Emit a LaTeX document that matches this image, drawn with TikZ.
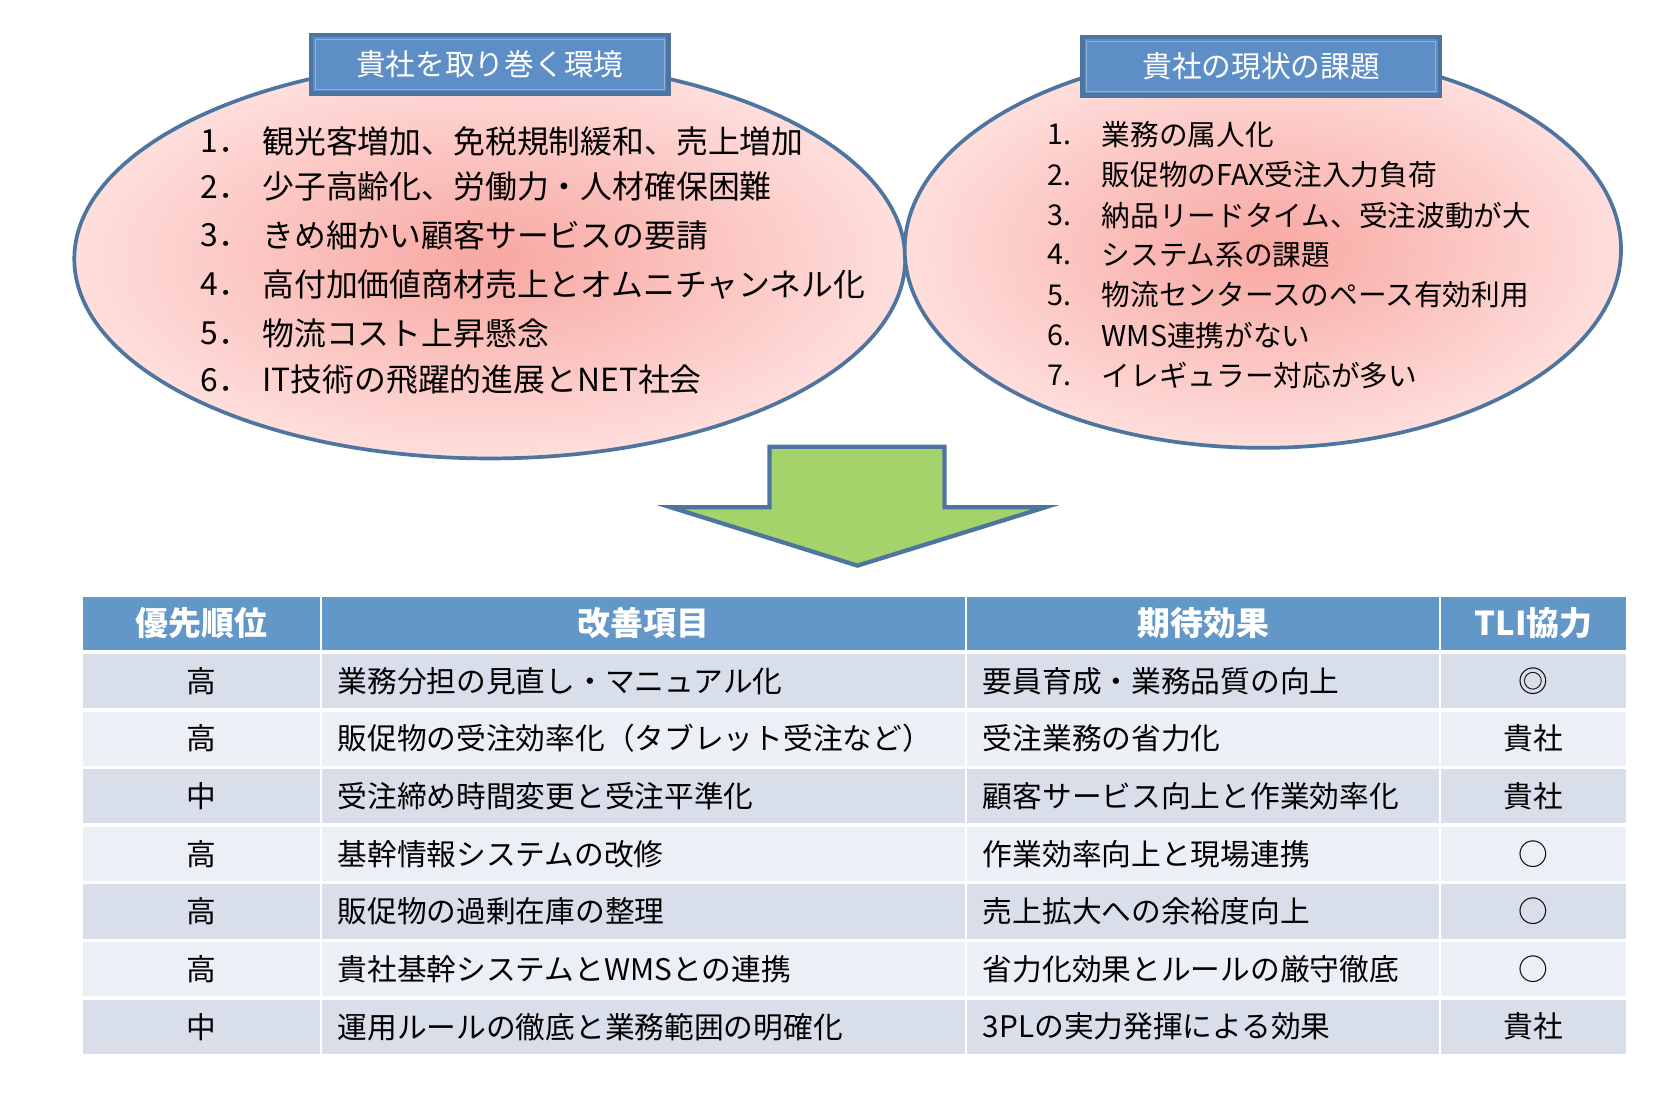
\documentclass[tikz,border=0pt]{standalone}
\usepackage{fontspec}
\newfontfamily\jp{Noto Sans CJK JP}
\usetikzlibrary{shapes.geometric}

\definecolor{frameblue}{HTML}{4E74A0}
\definecolor{titleblue}{HTML}{5D8FC6}
\definecolor{titleedge}{HTML}{8DB1DA}
\definecolor{pinkcore}{HTML}{F8A7A1}
\definecolor{pinkrim}{HTML}{FEDEDC}
\definecolor{arrowgreen}{HTML}{A3D36A}
\definecolor{headblue}{HTML}{6397C7}
\definecolor{rowdark}{HTML}{D8DFEA}
\definecolor{rowlight}{HTML}{ECEFF5}

\tikzset{
  bubble/.style={ellipse,draw=frameblue,line width=3.5pt,inner color=pinkcore,outer color=pinkrim},
  titlebox/.style={draw=frameblue,line width=4pt,fill=titleblue,text=white,inner sep=0pt,
    minimum width=337pt,minimum height=55pt,font=\jp\fontsize{28}{32}\selectfont},
  envtext/.style={anchor=west,inner sep=0pt,font=\jp\fontsize{30}{34}\selectfont},
  issuetext/.style={anchor=west,inner sep=0pt,font=\jp\fontsize{27}{31}\selectfont},
  headcell/.style={anchor=north west,fill=headblue,text=white,inner sep=0pt,minimum height=50pt,
    font=\jp\bfseries\fontsize{31}{35}\selectfont},
  bodycell/.style={anchor=north west,inner sep=0pt,minimum height=51pt,
    font=\jp\fontsize{28}{32}\selectfont},
}

\begin{document}
\begin{tikzpicture}[x=1pt,y=-1pt]
  \useasboundingbox (0,0) rectangle (1568,1031);

  \node[bubble,minimum width=783pt,minimum height=376pt] (envbubble) at (461.5,244) {};
  \node[bubble,minimum width=675pt,minimum height=374pt] (issuebubble) at (1190,235) {};

  \node[titlebox] (envtitle) at (461.5,60.5) {貴社を取り巻く環境};
  \draw[titleedge,line width=1.2pt] ([shift={(6,6)}]envtitle.north west) rectangle ([shift={(-6,-6)}]envtitle.south east);
  \node[titlebox] (issuetitle) at (1188.5,62.5) {貴社の現状の課題};
  \draw[titleedge,line width=1.2pt] ([shift={(6,6)}]issuetitle.north west) rectangle ([shift={(-6,-6)}]issuetitle.south east);

  \foreach \y/\txt [count=\i] in {133/観光客増加、免税規制緩和、売上増加,176/少子高齢化、労働力・人材確保困難,
    222/きめ細かい顧客サービスの要請,268/高付加価値商材売上とオムニチャンネル化,314/物流コスト上昇懸念,
    358/IT技術の飛躍的進展とNET社会} {
    \node[envtext] (envnum\i) at (189,\y) {\i．};
    \node[envtext] (env\i) at (247,\y) {\txt};
  }

  \foreach \y/\txt [count=\i] in {127/業務の属人化,165/販促物のFAX受注入力負荷,203/納品リードタイム、受注波動が大,
    240/システム系の課題,278/物流センタースのペース有効利用,316/WMS連携がない,354/イレギュラー対応が多い} {
    \node[issuetext] (issuenum\i) at (987,\y) {\i.};
    \node[issuetext] (issue\i) at (1038,\y) {\txt};
  }

  \draw[draw=frameblue,fill=arrowgreen,line width=4pt,line join=miter]
    (725,421) -- (890,421) -- (890,478) -- (985,478) -- (808,533) -- (632,478) -- (725,478) -- cycle;

  \foreach \x/\w/\hd [count=\c] in {78/223/優先順位,303/606/改善項目,911/445/期待効果,1358/174/TLI協力}
    \node[headcell,minimum width=\w pt] (head\c) at (\x,562) {\hd};

  \foreach \pri/\task/\gain/\help [count=\r] in {
    高/業務分担の見直し・マニュアル化/要員育成・業務品質の向上/◎,
    高/販促物の受注効率化（タブレット受注など）/受注業務の省力化/貴社,
    中/受注締め時間変更と受注平準化/顧客サービス向上と作業効率化/貴社,
    高/基幹情報システムの改修/作業効率向上と現場連携/○,
    高/販促物の過剰在庫の整理/売上拡大への余裕度向上/○,
    高/貴社基幹システムとWMSとの連携/省力化効果とルールの厳守徹底/○,
    中/運用ルールの徹底と業務範囲の明確化/3PLの実力発揮による効果/貴社} {
    \ifodd\r \def\rowfill{rowdark}\else \def\rowfill{rowlight}\fi
    \pgfmathsetmacro\rowtop{616+(\r-1)*54.3}
    \node[bodycell,fill=\rowfill,minimum width=223pt,align=center] (pri\r) at (78,\rowtop) {\pri};
    \node[bodycell,fill=\rowfill,text width=576pt,inner xsep=15pt,align=left] (task\r) at (303,\rowtop) {\task};
    \node[bodycell,fill=\rowfill,text width=415pt,inner xsep=15pt,align=left] (gain\r) at (911,\rowtop) {\gain};
    \node[bodycell,fill=\rowfill,minimum width=174pt,align=center] (help\r) at (1358,\rowtop) {\help};
  }
\end{tikzpicture}
\end{document}
